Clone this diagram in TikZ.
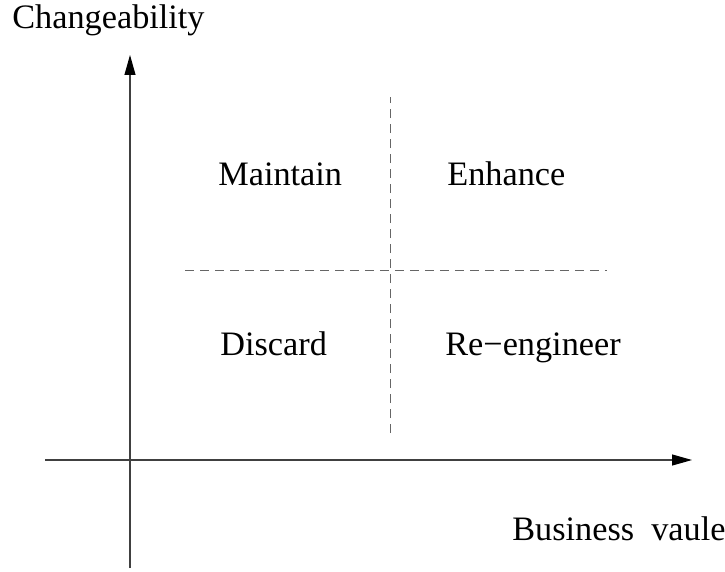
\documentclass[tikz,border=0pt]{standalone}
\usepackage{fontspec}
\setmainfont{Liberation Serif}
\usepackage{tikz}
\usetikzlibrary{arrows.meta}
\tikzset{
    axis/.style={draw=black!75, line width=0.6pt, -{Triangle[length=0.4cm,width=0.22cm,black]}},
    split/.style={draw=black!60, line width=0.55pt, dash pattern=on 0.18cm off 0.12cm},
    quad/.style={font=\fontsize{19.5}{23}\selectfont, inner sep=0pt, anchor=base west}
}

\begin{document}
\begin{tikzpicture}
        \useasboundingbox (0,0) rectangle (14.5,11.42);
        \coordinate (ybot) at (2.6,0.06);
        \coordinate (ytop) at (2.6,10.32);
        \coordinate (xleft) at (0.9,2.22);
        \coordinate (xright) at (13.84,2.22);
        \draw[axis] (ybot) -- (ytop);
        \draw[axis] (xleft) -- (xright);
        \coordinate (hl) at (3.7,6.02);
        \coordinate (hr) at (12.14,6.02);
        \coordinate (vb) at (7.8,2.76);
        \coordinate (vt) at (7.8,9.48);
        \draw[split] (hl) -- (hr);
        \draw[split] (vb) -- (vt);
        \node[quad] (ylab) at (0.24,10.86) {Changeability};
        \node[quad] (xlab) at (10.24,0.62) {Business\ \ vaule};
        \node[quad] (maintain) at (4.36,7.72) {Maintain};
        \node[quad] (enhance) at (8.94,7.72) {Enhance};
        \node[quad] (discard) at (4.4,4.32) {Discard};
        \node[quad] (reeng) at (8.9,4.32) {Re−engineer};
    \end{tikzpicture}
\end{document}
